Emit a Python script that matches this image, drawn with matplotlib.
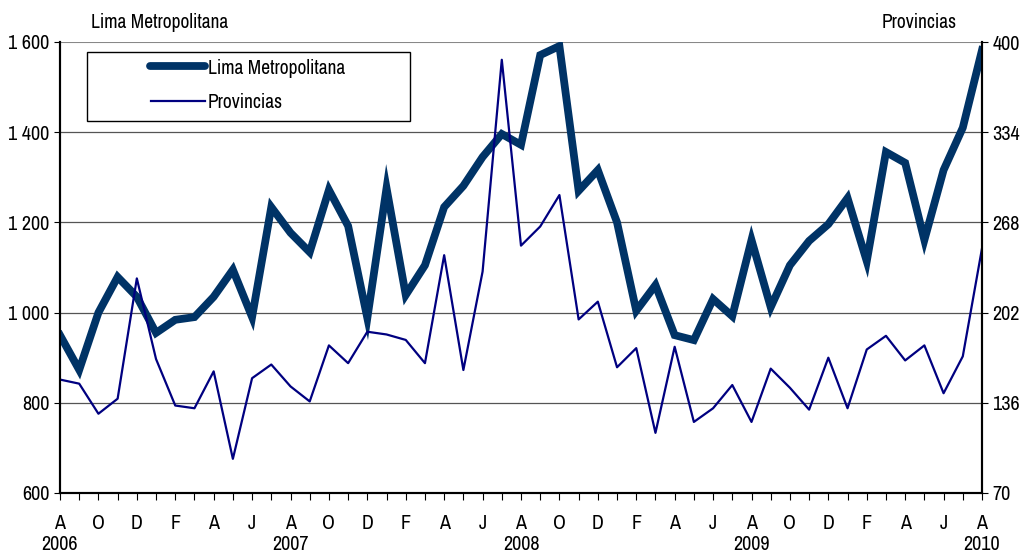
import matplotlib.pyplot as plt
import matplotlib.transforms as mtransforms
from matplotlib import font_manager
from matplotlib.patches import Rectangle
from matplotlib.lines import Line2D

# monthly series, Aug 2006 - Aug 2010
lima = [950, 873, 1000, 1079, 1035, 955, 984, 990, 1035, 1095, 990, 1234,
        1177, 1134, 1272, 1192, 988, 1276, 1039, 1105, 1234, 1281, 1345, 1396,
        1372, 1571, 1591, 1270, 1316, 1200, 1004, 1061, 950, 939, 1030, 992,
        1161, 1012, 1105, 1159, 1196, 1254, 1114, 1356, 1332, 1161, 1316, 1410,
        1582]
provincias = [153, 150, 128, 139, 227, 168, 134, 132, 159, 95, 154, 164,
              148, 137, 178, 165, 188, 186, 182, 165, 244, 160, 232, 387,
              251, 265, 288, 197, 210, 162, 176, 114, 177, 122, 132, 149,
              122, 161, 147, 131, 169, 132, 175, 185, 167, 178, 143, 170,
              249]
month_letters = ['A', 'O', 'D', 'F', 'A', 'J']
years = ['2006', '2007', '2008', '2009', '2010']
left_ticks = [600, 800, 1000, 1200, 1400, 1600]
right_ticks = [70, 136, 202, 268, 334, 400]

# look for a narrow sans face, like the original Arial Narrow
fam = 'Liberation Sans'
stretch = 'normal'
for f in font_manager.fontManager.ttflist:
    if 'Narrow' in f.name or 'Condensed' in f.name:
        fam = f.name
        break
else:
    for f in font_manager.fontManager.ttflist:
        if f.name in ('DejaVu Sans', 'Liberation Sans', 'Roboto', 'Noto Sans', 'Open Sans') \
                and str(f.stretch) in ('condensed', 'semi-condensed', '75', '87'):
            fam = f.name
            stretch = 'condensed'
            break
plt.rcParams['font.family'] = [fam, 'DejaVu Sans']
plt.rcParams['font.stretch'] = stretch
plt.rcParams['font.size'] = 14

x = list(range(len(lima)))

fig = plt.figure(figsize=(10.22, 5.52), dpi=100)
ax = fig.add_axes([60 / 1022, 59 / 552, 922 / 1022, 451 / 552])
ax2 = ax.twinx()

ax.plot(x, lima, color='#003366', lw=5.6, solid_joinstyle='miter', zorder=3)
ax2.plot(x, provincias, color='#000080', lw=1.6, zorder=2)

ax.set_xlim(0, len(lima) - 1)
ax.set_ylim(600, 1600)
ax2.set_ylim(70, 400)
ax.set_yticks(left_ticks)
ax.set_yticklabels([f'{v:,}'.replace(',', ' ') for v in left_ticks])
ax2.set_yticks(right_ticks)

ax.set_xticks(x)
ax.set_xticklabels([month_letters[(i // 2) % 6] if i % 2 == 0 else '' for i in x])
ax.tick_params(axis='x', length=5, pad=10, labelsize=14.5)
ax.tick_params(axis='y', length=4, labelsize=14.5)
ax2.tick_params(axis='y', length=4, labelsize=14.5)

for v in left_ticks[1:5]:
    ax.axhline(v, color='#555555', lw=0.9, zorder=1)
ax.axhline(1600, color='#888888', lw=1.5, zorder=1)

for a in (ax, ax2):
    a.spines['top'].set_visible(False)
    for s in ('left', 'right', 'bottom'):
        a.spines[s].set_linewidth(1.5)

trans = mtransforms.blended_transform_factory(ax.transData, fig.transFigure)
for k, yr in enumerate(years):
    ax.text(k * 12, 1 - 544 / 552, yr, transform=trans, ha='center', va='center', fontsize=14.5)

fig.text(91 / 1022, 1 - 22 / 552, 'Lima Metropolitana', ha='left', va='center', fontsize=14)
fig.text(882 / 1022, 1 - 22 / 552, 'Provincias', ha='left', va='center', fontsize=14)

# legend box drawn by hand to match the wide left padding of the original
W, H = 922.0, 451.0
ax2.add_patch(Rectangle((27 / W, 1 - 79 / H), 323 / W, 69 / H, transform=ax2.transAxes,
                        fill=True, facecolor='white', edgecolor='black', lw=1.0, zorder=5))
ax2.add_line(Line2D([90 / W, 145 / W], [1 - 24 / H] * 2, transform=ax2.transAxes,
                    color='#003366', lw=5.6, solid_capstyle='round', zorder=6))
ax2.add_line(Line2D([91 / W, 145 / W], [1 - 59 / H] * 2, transform=ax2.transAxes,
                    color='#000080', lw=1.6, zorder=6))
ax2.text(148 / W, 1 - 26 / H, 'Lima Metropolitana', transform=ax2.transAxes,
         ha='left', va='center', fontsize=14, zorder=6)
ax2.text(148 / W, 1 - 60 / H, 'Provincias', transform=ax2.transAxes,
         ha='left', va='center', fontsize=14, zorder=6)

fig.savefig('out.png', dpi=100)
